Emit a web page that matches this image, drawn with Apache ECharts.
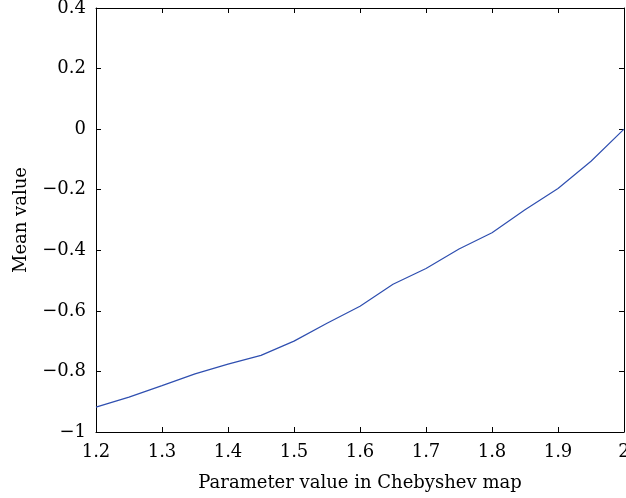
<!DOCTYPE html>
<html>
<head>
<meta charset="utf-8">
<script src="https://cdn.jsdelivr.net/npm/echarts@6/dist/echarts.min.js"></script>
<style>html,body{margin:0;padding:0;background:#fff}#c{width:626px;height:498px}</style>
</head>
<body>
<div id="c"></div>
<script>
const xValues = [1.2, 1.25, 1.3, 1.35, 1.4, 1.45, 1.5, 1.55, 1.6, 1.65, 1.7, 1.75, 1.8, 1.85, 1.9, 1.95, 2.0];
const meanValues = [-0.918, -0.885, -0.847, -0.808, -0.776, -0.747, -0.700, -0.641, -0.585, -0.512, -0.460, -0.396, -0.342, -0.266, -0.196, -0.106, 0.0];
const xLabel = 'Parameter value in Chebyshev map';
const yLabel = 'Mean value';

const font = 'DejaVu Serif, serif';
const chart = echarts.init(document.getElementById('c'), null, {renderer: 'canvas'});
const axisLine = {show: true, onZero: false, lineStyle: {color: '#000', width: 1}};
const tick = {show: true, inside: true, length: 5, lineStyle: {color: '#000'}};
const fmt = v => String(Math.round(v * 10) / 10).replace('-', '\u2212');
chart.setOption({
  animation: false,
  grid: {left: 96, right: 2, top: 8, bottom: 66, containLabel: false, outerBoundsMode: 'none'},
  xAxis: [{
    type: 'value', min: 1.2, max: 2, interval: 0.1, position: 'bottom',
    axisLine, axisTick: tick, splitLine: {show: false},
    axisLabel: {color: '#000', fontFamily: font, fontSize: 18, margin: 11, formatter: fmt},
    name: xLabel, nameLocation: 'middle', nameGap: 42,
    nameTextStyle: {color: '#000', fontFamily: font, fontSize: 18}
  }, {
    type: 'value', min: 1.2, max: 2, interval: 0.1, position: 'top',
    axisLine, axisTick: tick, axisLabel: {show: false}, splitLine: {show: false}
  }],
  yAxis: [{
    type: 'value', min: -1, max: 0.4, interval: 0.2, position: 'left',
    axisLine, axisTick: tick, splitLine: {show: false},
    axisLabel: {color: '#000', fontFamily: font, fontSize: 18, margin: 10, formatter: fmt},
    name: yLabel, nameLocation: 'middle', nameGap: 66,
    nameTextStyle: {color: '#000', fontFamily: font, fontSize: 18}
  }, {
    type: 'value', min: -1, max: 0.4, interval: 0.2, position: 'right',
    axisLine, axisTick: tick, axisLabel: {show: false}, splitLine: {show: false}
  }],
  series: [{
    type: 'line', xAxisIndex: 0, yAxisIndex: 0,
    data: xValues.map((x, i) => [x, meanValues[i]]),
    showSymbol: false, lineStyle: {color: '#2f4fb0', width: 1.2}
  }]
});
</script>
</body>
</html>
